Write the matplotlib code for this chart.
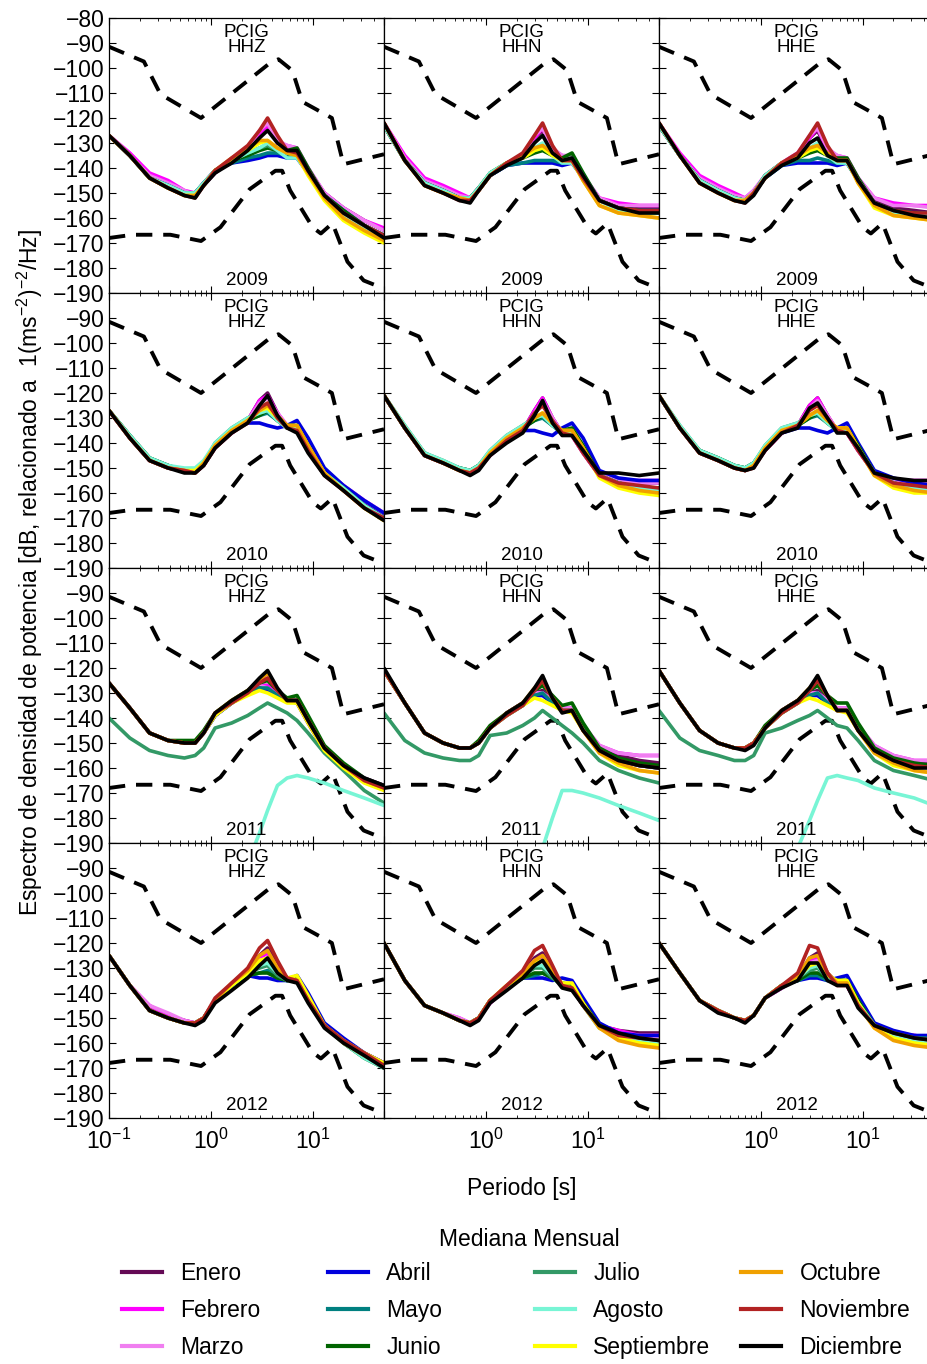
import numpy as np
import matplotlib
matplotlib.use('Agg')
from matplotlib import pyplot as plt
from matplotlib.lines import Line2D

plt.rcParams['font.family'] = ['Liberation Sans', 'DejaVu Sans']
plt.rcParams['mathtext.fontset'] = 'custom'
plt.rcParams['mathtext.rm'] = 'Liberation Sans'
plt.rcParams['mathtext.default'] = 'regular'

N = np.nan

# periodos [s] donde se leyeron las medianas
periodo = [0.1, 0.16, 0.25, 0.38, 0.55, 0.7, 0.85, 1.1, 1.6, 2.3,
           3.0, 3.6, 4.5, 5.6, 7.0, 9.0, 13, 20, 32, 50]

meses = ['Enero', 'Febrero', 'Marzo', 'Abril', 'Mayo', 'Junio',
         'Julio', 'Agosto', 'Septiembre', 'Octubre', 'Noviembre', 'Diciembre']
colores = ['#640a55', '#ff00ff', '#f07ef0', '#0000dd', '#008080', '#006400',
           '#339966', '#78f5d5', '#ffff00', '#f0a000', '#b22222', '#000000']

# modelos de ruido (Peterson)
nhnm_T = [0.1, 0.22, 0.32, 0.8, 3.8, 4.6, 6.3, 7.9, 15.4, 20, 50]
nhnm_db = [-91.5, -97.4, -110.5, -120.0, -98.0, -96.5, -101.0, -113.5, -120.0, -138.5, -134.5]
nlnm_T = [0.1, 0.17, 0.4, 0.8, 1.24, 2.4, 4.3, 5.0, 6.0, 10, 12, 15.6, 21.9, 31.6, 45, 50]
nlnm_db = [-168.0, -166.7, -166.7, -169.2, -163.7, -148.5, -141.1, -141.1, -149.0,
           -163.8, -166.2, -162.1, -177.5, -185.0, -187.5, -187.5]

# medianas mensuales (Enero ... Diciembre), dB
psd_2009_hhz = [
    [-127,-135,-143,-147,-150,-151,-147,-142,-137,-132,-126,-123,-129,-133,-134,-141,-150,-156,-161,-165],
    [-127,-134,-142,-145,-149,-150,-146,-141,-137,-132,-126,-123,-130,-131,-132,-140,-150,-156,-161,-164],
    [-127,-135,-143,-146,-149,-151,-147,-141,-137,-132,-125,-122,-129,-131,-132,-140,-150,-156,-161,-165],
    [-127,-135,-144,-147,-150,-150,-146,-141,-138,-137,-136,-135,-135,-136,-136,-142,-151,-157,-163,-167],
    [-127,-135,-144,-147,-150,-150,-146,-141,-138,-136,-135,-134,-134,-135,-135,-141,-151,-157,-163,-167],
    [-127,-135,-144,-148,-150,-151,-147,-141,-137,-135,-133,-132,-133,-133,-132,-140,-151,-157,-163,-167],
    [-127,-135,-144,-147,-150,-150,-146,-141,-137,-134,-132,-131,-133,-134,-134,-141,-151,-158,-164,-168],
    [-127,-135,-144,-147,-150,-150,-146,-141,-137,-134,-132,-130,-133,-136,-136,-142,-152,-159,-164,-168],
    [-127,-135,-144,-148,-151,-151,-147,-141,-137,-133,-130,-129,-132,-134,-135,-143,-153,-161,-166,-170],
    [-127,-135,-144,-148,-151,-151,-147,-141,-136,-132,-129,-129,-132,-134,-135,-142,-152,-160,-165,-169],
    [-127,-135,-144,-148,-151,-152,-147,-141,-136,-131,-125,-120,-127,-133,-134,-141,-151,-158,-163,-167],
    [-127,-135,-144,-148,-151,-152,-147,-142,-138,-133,-128,-125,-130,-133,-133,-141,-151,-158,-163,-168],
]
psd_2009_hhn = [
    [-122,-136,-146,-149,-152,-153,-149,-143,-139,-135,-128,-125,-133,-136,-137,-144,-153,-155,-156,-156],
    [-122,-135,-144,-147,-150,-152,-148,-143,-138,-135,-128,-124,-133,-135,-136,-143,-152,-154,-155,-155],
    [-122,-136,-145,-148,-151,-152,-148,-143,-138,-135,-127,-124,-132,-135,-135,-143,-152,-155,-155,-155],
    [-123,-137,-146,-149,-152,-153,-149,-143,-139,-138,-138,-138,-138,-139,-138,-144,-153,-156,-157,-157],
    [-123,-137,-146,-149,-152,-152,-148,-143,-139,-138,-137,-137,-137,-138,-137,-143,-153,-156,-157,-157],
    [-123,-137,-146,-149,-152,-152,-148,-142,-138,-136,-134,-133,-135,-136,-134,-142,-153,-156,-157,-158],
    [-123,-137,-146,-149,-152,-152,-148,-142,-138,-136,-133,-132,-135,-137,-136,-143,-153,-156,-158,-158],
    [-123,-137,-146,-149,-152,-152,-148,-142,-138,-136,-132,-130,-135,-138,-138,-144,-153,-157,-158,-158],
    [-122,-137,-147,-150,-152,-153,-149,-143,-138,-136,-133,-132,-135,-137,-137,-145,-155,-158,-159,-160],
    [-122,-137,-147,-150,-152,-153,-149,-143,-138,-135,-132,-131,-134,-137,-137,-145,-155,-158,-159,-160],
    [-122,-137,-147,-150,-153,-153,-149,-143,-138,-134,-127,-122,-131,-137,-137,-144,-153,-156,-157,-157],
    [-122,-137,-147,-150,-153,-154,-149,-143,-139,-136,-130,-127,-134,-137,-136,-143,-153,-156,-158,-158],
]
psd_2009_hhe = [
    [-122,-135,-145,-149,-152,-153,-150,-144,-138,-135,-128,-125,-133,-136,-137,-145,-153,-156,-157,-158],
    [-122,-134,-143,-147,-150,-152,-149,-143,-138,-134,-128,-124,-133,-135,-136,-144,-152,-154,-155,-155],
    [-122,-135,-144,-148,-151,-152,-149,-143,-138,-134,-127,-124,-132,-135,-136,-144,-152,-155,-155,-156],
    [-123,-135,-145,-149,-152,-153,-150,-144,-139,-138,-138,-138,-138,-139,-138,-145,-154,-157,-158,-158],
    [-123,-135,-145,-149,-152,-153,-150,-144,-139,-137,-137,-136,-137,-138,-138,-145,-154,-157,-158,-158],
    [-123,-135,-145,-149,-152,-153,-150,-143,-138,-136,-134,-133,-135,-136,-136,-144,-154,-157,-158,-159],
    [-123,-135,-145,-149,-152,-153,-150,-143,-138,-136,-133,-132,-135,-137,-137,-145,-154,-157,-159,-159],
    [-123,-135,-145,-149,-152,-153,-150,-143,-138,-135,-132,-130,-135,-138,-138,-145,-154,-158,-159,-159],
    [-122,-135,-146,-150,-153,-153,-150,-144,-138,-136,-133,-132,-135,-137,-137,-146,-156,-159,-160,-161],
    [-122,-135,-146,-150,-153,-153,-150,-144,-138,-135,-132,-131,-134,-137,-137,-146,-155,-159,-160,-161],
    [-122,-135,-146,-150,-153,-154,-150,-144,-138,-134,-127,-122,-131,-137,-137,-145,-154,-157,-158,-158],
    [-122,-135,-146,-150,-153,-154,-151,-144,-139,-136,-130,-128,-135,-137,-137,-145,-154,-157,-159,-160],
]
psd_2010_hhz = [
    [-127,-138,-147,-150,-151,-152,-149,-142,-136,-131,-123,-120,-128,-134,-135,-143,-152,-158,-164,-169],
    [-127,-138,-147,-150,-151,-151,-148,-141,-136,-131,-123,-121,-128,-133,-134,-142,-151,-157,-163,-168],
    [-127,-138,-147,-150,-151,-151,-148,-141,-136,-131,-124,-122,-128,-133,-134,-142,-151,-157,-163,-168],
    [-127,-138,-147,-150,-151,-151,-148,-141,-135,-132,-132,-133,-134,-133,-131,-138,-150,-157,-163,-168],
    [-127,-137,-146,-149,-151,-151,-148,-141,-135,-131,-129,-128,-131,-134,-134,-142,-152,-158,-165,-170],
    [-127,-137,-146,-149,-151,-151,-148,-141,-135,-131,-129,-127,-131,-133,-133,-141,-152,-158,-165,-170],
    [-127,-137,-146,-149,-151,-151,-148,-140,-134,-130,-128,-127,-131,-134,-134,-142,-152,-159,-165,-170],
    [-127,-137,-146,-149,-150,-150,-147,-140,-134,-130,-128,-127,-131,-134,-134,-142,-152,-158,-165,-170],
    [-127,-138,-147,-150,-151,-151,-148,-141,-135,-131,-127,-126,-130,-133,-133,-141,-152,-159,-166,-171],
    [-127,-138,-147,-150,-151,-152,-148,-141,-135,-131,-127,-125,-129,-133,-133,-141,-152,-159,-166,-171],
    [-127,-138,-147,-150,-151,-152,-149,-142,-136,-132,-126,-124,-130,-134,-135,-143,-153,-159,-166,-170],
    [-127,-138,-147,-150,-152,-152,-149,-142,-136,-132,-125,-121,-129,-134,-136,-144,-153,-159,-166,-171],
]
psd_2010_hhn = [
    [-121,-134,-145,-148,-151,-152,-150,-145,-139,-135,-127,-122,-130,-136,-137,-144,-153,-155,-156,-156],
    [-121,-134,-145,-148,-150,-152,-150,-145,-139,-135,-127,-122,-130,-136,-137,-144,-153,-155,-155,-155],
    [-121,-134,-145,-148,-150,-152,-150,-145,-139,-135,-128,-123,-130,-136,-137,-144,-153,-155,-156,-156],
    [-121,-134,-145,-148,-150,-152,-150,-144,-138,-135,-135,-136,-137,-134,-132,-138,-151,-154,-155,-155],
    [-121,-134,-144,-148,-150,-151,-149,-144,-138,-134,-131,-130,-133,-136,-135,-142,-153,-156,-158,-158],
    [-121,-134,-144,-148,-150,-151,-149,-144,-138,-134,-131,-129,-133,-135,-134,-141,-153,-156,-158,-158],
    [-121,-133,-144,-147,-150,-151,-149,-143,-137,-133,-130,-129,-133,-136,-136,-143,-153,-156,-158,-159],
    [-121,-133,-144,-147,-150,-151,-149,-143,-137,-133,-130,-129,-133,-136,-136,-143,-153,-156,-158,-159],
    [-121,-134,-145,-148,-151,-152,-150,-144,-138,-134,-130,-128,-132,-135,-135,-142,-154,-158,-160,-161],
    [-121,-134,-145,-148,-151,-152,-150,-144,-138,-134,-130,-128,-132,-135,-135,-142,-153,-157,-159,-160],
    [-121,-134,-145,-148,-151,-152,-150,-145,-139,-135,-128,-125,-131,-136,-137,-144,-153,-156,-157,-158],
    [-121,-134,-145,-148,-151,-153,-151,-145,-140,-136,-129,-123,-132,-137,-137,-143,-152,-152,-153,-152],
]
psd_2010_hhe = [
    [-121,-134,-144,-147,-150,-151,-149,-143,-136,-133,-125,-122,-129,-135,-136,-143,-152,-155,-156,-156],
    [-121,-134,-144,-147,-150,-151,-149,-143,-136,-133,-125,-122,-129,-135,-136,-143,-152,-155,-155,-155],
    [-121,-134,-144,-147,-150,-151,-149,-143,-136,-133,-126,-123,-129,-135,-136,-143,-152,-155,-156,-156],
    [-121,-134,-144,-147,-150,-151,-149,-142,-136,-134,-134,-135,-136,-134,-132,-140,-151,-154,-156,-157],
    [-121,-134,-143,-146,-149,-150,-148,-142,-135,-133,-130,-129,-132,-135,-135,-142,-152,-156,-158,-158],
    [-121,-134,-143,-146,-149,-150,-148,-142,-135,-133,-130,-128,-132,-134,-134,-141,-152,-156,-158,-158],
    [-121,-133,-143,-146,-149,-150,-148,-141,-134,-132,-129,-128,-132,-135,-135,-142,-152,-156,-158,-159],
    [-121,-133,-143,-146,-149,-150,-148,-141,-134,-132,-129,-128,-132,-135,-135,-142,-152,-156,-158,-159],
    [-121,-134,-144,-147,-150,-151,-149,-142,-135,-133,-129,-127,-131,-134,-134,-142,-153,-158,-160,-160],
    [-121,-134,-144,-147,-150,-151,-149,-142,-135,-133,-129,-127,-131,-134,-134,-142,-153,-157,-159,-160],
    [-121,-134,-144,-147,-150,-151,-150,-143,-136,-133,-127,-125,-130,-135,-136,-143,-152,-156,-157,-158],
    [-121,-134,-144,-147,-150,-151,-150,-143,-136,-134,-126,-124,-130,-136,-136,-142,-152,-154,-155,-155],
]
psd_2011_hhz = [
    [-126,-136,-146,-149,-150,-150,-146,-139,-134,-130,-127,-127,-130,-133,-134,-142,-153,-159,-165,-168],
    [-126,-136,-146,-149,-150,-150,-146,-139,-134,-130,-127,-127,-130,-133,-133,-141,-152,-159,-164,-167],
    [-126,-136,-146,-149,-150,-150,-146,-139,-134,-130,-127,-128,-131,-133,-133,-141,-152,-159,-164,-167],
    [-126,-136,-146,-149,-150,-150,-146,-139,-134,-130,-128,-129,-131,-133,-133,-141,-152,-159,-165,-168],
    [-126,-136,-146,-149,-150,-150,-146,-139,-134,-130,-128,-128,-131,-133,-133,-141,-152,-159,-165,-168],
    [-126,-136,-146,-149,-149,-149,-145,-138,-133,-129,-126,-125,-129,-132,-131,-139,-151,-158,-164,-167],
    [-140,-148,-153,-155,-156,-155,-152,-144,-142,-139,-136,-134,-136,-138,-141,-146,-154,-161,-169,-174],
    [N, N, N, N, N, N, N, N, N, -198,-186,-177,-167,-164,-163,-164,-166,-169,-172,-175],
    [-126,-136,-146,-149,-150,-150,-146,-139,-134,-131,-129,-130,-132,-134,-134,-142,-153,-160,-166,-169],
    [-126,-136,-146,-149,-150,-150,-146,-138,-133,-129,-125,-122,-129,-133,-133,-141,-152,-159,-165,-168],
    [-126,-136,-146,-149,-150,-150,-146,-138,-134,-130,-126,-124,-129,-133,-133,-141,-152,-159,-165,-168],
    [-126,-136,-146,-149,-150,-150,-146,-138,-133,-129,-124,-121,-128,-133,-133,-141,-152,-159,-164,-167],
]
psd_2011_hhn = [
    [-121,-134,-146,-150,-152,-152,-150,-144,-138,-134,-130,-129,-133,-137,-137,-144,-152,-155,-157,-158],
    [-121,-134,-146,-150,-152,-152,-150,-144,-138,-134,-130,-130,-133,-136,-136,-143,-151,-154,-155,-155],
    [-121,-134,-146,-150,-152,-152,-150,-144,-138,-134,-130,-130,-133,-136,-136,-143,-151,-154,-155,-155],
    [-121,-134,-146,-150,-152,-152,-150,-144,-139,-135,-131,-131,-134,-137,-137,-144,-153,-157,-159,-160],
    [-121,-134,-146,-150,-152,-152,-150,-144,-139,-135,-131,-130,-134,-137,-137,-144,-153,-157,-159,-160],
    [-121,-134,-146,-150,-152,-152,-149,-143,-138,-134,-129,-127,-131,-135,-134,-142,-152,-156,-158,-159],
    [-138,-149,-154,-156,-157,-157,-155,-147,-146,-143,-140,-137,-140,-143,-146,-150,-157,-161,-164,-166],
    [N, N, N, N, N, N, N, N, N, N, -198,-192,-180,-169,-169,-170,-172,-175,-178,-181],
    [-121,-134,-146,-150,-152,-152,-150,-144,-139,-135,-132,-133,-135,-137,-138,-145,-154,-159,-161,-162],
    [-121,-134,-146,-150,-152,-152,-150,-144,-138,-134,-128,-125,-132,-137,-137,-145,-154,-158,-161,-162],
    [-121,-134,-146,-150,-152,-152,-150,-144,-139,-135,-129,-125,-132,-137,-137,-145,-153,-157,-159,-160],
    [-120,-134,-146,-150,-152,-152,-150,-144,-138,-134,-128,-123,-132,-138,-137,-145,-153,-157,-159,-160],
]
psd_2011_hhe = [
    [-121,-134,-145,-150,-152,-152,-150,-144,-137,-133,-130,-129,-133,-137,-137,-144,-152,-156,-158,-158],
    [-121,-134,-145,-150,-152,-152,-150,-144,-137,-133,-130,-130,-133,-136,-136,-143,-151,-155,-157,-157],
    [-121,-134,-145,-150,-152,-152,-150,-144,-137,-133,-130,-130,-133,-136,-136,-143,-151,-155,-157,-157],
    [-121,-134,-145,-150,-152,-152,-150,-144,-138,-134,-131,-131,-134,-137,-137,-144,-153,-157,-159,-160],
    [-121,-134,-145,-150,-152,-152,-150,-144,-138,-134,-131,-130,-134,-137,-137,-144,-153,-157,-159,-160],
    [-121,-134,-145,-150,-152,-152,-150,-143,-137,-133,-129,-127,-131,-134,-134,-142,-152,-156,-158,-159],
    [-137,-148,-153,-155,-157,-157,-155,-146,-144,-141,-139,-137,-140,-143,-144,-149,-157,-161,-163,-165],
    [N, N, N, N, N, N, N, N, N, -192,-181,-173,-164,-163,-164,-165,-168,-170,-172,-175],
    [-121,-134,-145,-150,-152,-152,-150,-144,-138,-134,-132,-133,-135,-137,-138,-145,-154,-159,-161,-162],
    [-121,-134,-145,-150,-152,-152,-150,-144,-137,-133,-128,-125,-131,-137,-137,-145,-154,-158,-161,-162],
    [-121,-134,-145,-150,-152,-152,-150,-144,-138,-134,-129,-125,-131,-137,-137,-145,-153,-157,-159,-160],
    [-121,-134,-145,-150,-152,-153,-151,-144,-137,-133,-128,-123,-131,-137,-137,-145,-153,-157,-160,-160],
]
psd_2012_hhz = [
    [-125,-137,-146,-149,-151,-152,-150,-143,-137,-132,-125,-122,-129,-134,-135,-143,-153,-159,-164,-168],
    [-125,-137,-145,-149,-151,-152,-150,-143,-137,-132,-126,-124,-130,-134,-135,-143,-153,-159,-164,-168],
    [-125,-137,-145,-148,-151,-152,-150,-143,-137,-132,-127,-126,-131,-134,-135,-143,-153,-159,-164,-169],
    [-125,-137,-147,-150,-152,-152,-150,-143,-137,-133,-134,-134,-135,-135,-133,-140,-152,-158,-164,-168],
    [-125,-137,-147,-150,-152,-152,-150,-143,-137,-133,-132,-131,-134,-135,-134,-142,-153,-159,-165,-169],
    [-125,-137,-147,-150,-152,-152,-150,-143,-137,-133,-132,-132,-134,-135,-134,-142,-153,-160,-166,-170],
    [-125,-137,-147,-150,-152,-152,-150,-143,-137,-132,-130,-129,-133,-135,-135,-143,-153,-160,-166,-170],
    [-125,-137,-147,-150,-152,-152,-150,-143,-137,-132,-129,-128,-132,-135,-135,-143,-153,-160,-166,-170],
    [-125,-137,-147,-150,-152,-152,-150,-143,-137,-132,-127,-126,-131,-134,-133,-141,-153,-159,-164,-168],
    [-125,-137,-147,-150,-152,-152,-150,-143,-136,-131,-125,-123,-130,-134,-135,-143,-153,-160,-165,-169],
    [-125,-137,-147,-150,-152,-152,-150,-142,-136,-130,-122,-119,-127,-134,-135,-143,-153,-159,-164,-169],
    [-125,-137,-147,-150,-152,-153,-151,-144,-139,-134,-129,-126,-132,-135,-136,-144,-154,-160,-165,-170],
]
psd_2012_hhn = [
    [-120,-135,-145,-148,-151,-152,-150,-144,-138,-132,-126,-124,-131,-137,-138,-145,-153,-155,-156,-156],
    [-120,-135,-145,-148,-150,-152,-150,-144,-138,-133,-127,-126,-132,-137,-138,-145,-153,-155,-157,-157],
    [-120,-135,-145,-148,-150,-152,-150,-144,-138,-133,-128,-127,-132,-137,-138,-145,-153,-156,-157,-157],
    [-120,-135,-145,-148,-151,-152,-150,-143,-138,-134,-134,-134,-135,-134,-135,-142,-152,-156,-157,-157],
    [-120,-135,-145,-148,-151,-152,-150,-143,-138,-134,-133,-132,-134,-136,-137,-144,-153,-157,-159,-159],
    [-120,-135,-145,-148,-151,-152,-150,-143,-138,-134,-132,-132,-134,-136,-137,-144,-153,-157,-159,-160],
    [-120,-135,-145,-148,-151,-152,-150,-143,-138,-133,-130,-130,-134,-137,-138,-145,-154,-157,-159,-160],
    [-120,-135,-145,-148,-151,-152,-150,-143,-138,-133,-129,-129,-133,-137,-138,-145,-154,-157,-159,-160],
    [-120,-135,-145,-148,-151,-152,-150,-143,-137,-133,-128,-127,-132,-136,-136,-144,-154,-158,-160,-161],
    [-120,-135,-145,-148,-151,-152,-150,-143,-137,-132,-127,-125,-131,-137,-138,-145,-154,-159,-161,-162],
    [-120,-135,-145,-148,-151,-152,-150,-143,-137,-131,-123,-121,-129,-137,-138,-145,-153,-157,-158,-159],
    [-120,-135,-145,-148,-151,-153,-151,-144,-139,-134,-129,-127,-133,-138,-139,-145,-153,-156,-158,-159],
]
psd_2012_hhe = [
    [-120,-132,-143,-147,-150,-151,-149,-142,-138,-134,-126,-124,-132,-136,-137,-145,-153,-156,-157,-158],
    [-120,-132,-143,-147,-150,-151,-149,-142,-138,-134,-127,-126,-133,-136,-137,-145,-153,-156,-157,-158],
    [-120,-132,-143,-147,-150,-151,-149,-142,-138,-134,-128,-127,-133,-136,-137,-145,-153,-156,-157,-158],
    [-120,-132,-143,-147,-150,-151,-149,-142,-137,-135,-134,-134,-135,-134,-133,-141,-152,-155,-157,-157],
    [-120,-132,-143,-147,-150,-151,-149,-142,-137,-135,-133,-133,-135,-135,-135,-143,-153,-156,-158,-158],
    [-120,-132,-143,-147,-150,-151,-149,-142,-137,-135,-132,-132,-134,-135,-135,-143,-153,-157,-159,-160],
    [-120,-132,-143,-147,-150,-151,-149,-142,-137,-134,-131,-130,-134,-136,-136,-144,-153,-157,-159,-160],
    [-120,-132,-143,-147,-150,-151,-149,-142,-137,-134,-130,-129,-134,-136,-136,-144,-153,-157,-159,-160],
    [-120,-132,-143,-147,-150,-151,-149,-142,-137,-134,-129,-128,-133,-135,-135,-144,-154,-158,-160,-161],
    [-120,-132,-143,-147,-150,-151,-149,-142,-137,-133,-126,-125,-132,-136,-136,-145,-154,-159,-161,-162],
    [-120,-132,-143,-147,-150,-151,-149,-142,-137,-132,-121,-122,-132,-137,-137,-145,-153,-156,-158,-159],
    [-120,-132,-143,-148,-150,-152,-149,-142,-138,-135,-128,-128,-135,-137,-137,-146,-153,-156,-158,-159],
]

anios = ['2009', '2010', '2011', '2012']
canales = ['HHZ', 'HHN', 'HHE']
paneles = [[psd_2009_hhz, psd_2009_hhn, psd_2009_hhe],
           [psd_2010_hhz, psd_2010_hhn, psd_2010_hhe],
           [psd_2011_hhz, psd_2011_hhn, psd_2011_hhe],
           [psd_2012_hhz, psd_2012_hhn, psd_2012_hhe]]

W, H = 927, 1364
fig = plt.figure(figsize=(W/100, H/100), dpi=100)
fs = 16.5

for r in range(4):
    for c in range(3):
        left = 109 + 275*c
        top = 18 + 275*r
        ax = fig.add_axes([left/W, 1 - (top + 275)/H, 275/W, 275/H])
        ax.plot(nhnm_T, nhnm_db, color='k', lw=2.8, ls=(0, (4.2, 2.8)))
        ax.plot(nlnm_T, nlnm_db, color='k', lw=2.8, ls=(0, (4.2, 2.8)))
        for m in range(12):
            ax.plot(periodo, np.array(paneles[r][c][m], dtype=float),
                    color=colores[m], lw=2.6, solid_capstyle='round',
                    solid_joinstyle='round')
        ax.set_xscale('log')
        ax.set_xlim(0.1, 50)
        ax.set_ylim(-190, -80)
        if r == 0:
            ax.set_yticks(range(-190, -79, 10))
        else:
            ax.set_yticks(range(-190, -89, 10))
        ax.set_xticks([0.1, 1, 10])
        ax.tick_params(which='both', direction='in', top=True, right=True,
                       labelsize=fs, pad=3)
        ax.tick_params(which='major', length=5, width=0.8)
        ax.tick_params(which='minor', length=2.5, width=0.6)
        ax.tick_params(axis='x', which='major', pad=8)
        if c > 0:
            ax.set_yticklabels([])
        if r < 3:
            ax.set_xticklabels([])
        else:
            lab = ['$10^{-1}$', '$10^{0}$', '$10^{1}$']
            if c > 0:
                lab[0] = ''
            ax.set_xticklabels(lab)
        for s in ax.spines.values():
            s.set_linewidth(0.9)
        ax.text(0.5, 0.978, 'PCIG\n' + canales[c], transform=ax.transAxes,
                ha='center', va='top', fontsize=13.5, linespacing=0.88)
        ax.text(0.5, 0.015, anios[r], transform=ax.transAxes,
                ha='center', va='bottom', fontsize=13.5)

fig.text(30/W, 1 - 572/H,
         'Espectro de densidad de potencia [dB, relacionado a  1(ms$^{-2}$)$^{-2}$/Hz]',
         rotation=90, ha='center', va='center', fontsize=fs)
fig.text(522/W, 1 - 1188/H, 'Periodo [s]', ha='center', va='center', fontsize=fs)
fig.text(529/W, 1 - 1240/H, 'Mediana Mensual', ha='center', va='center', fontsize=fs)

xs = [122, 328, 535, 741]
for k in range(4):
    hs = [Line2D([], [], color=colores[3*k + i], lw=3) for i in range(3)]
    fig.legend(hs, meses[3*k:3*k + 3], loc='upper left',
               bbox_to_anchor=(xs[k]/W, 1 - 1262/H), frameon=False,
               fontsize=fs, borderpad=0, borderaxespad=0, handlelength=1.75,
               handletextpad=0.8, labelspacing=0.62)

fig.savefig('out.png', dpi=100)
